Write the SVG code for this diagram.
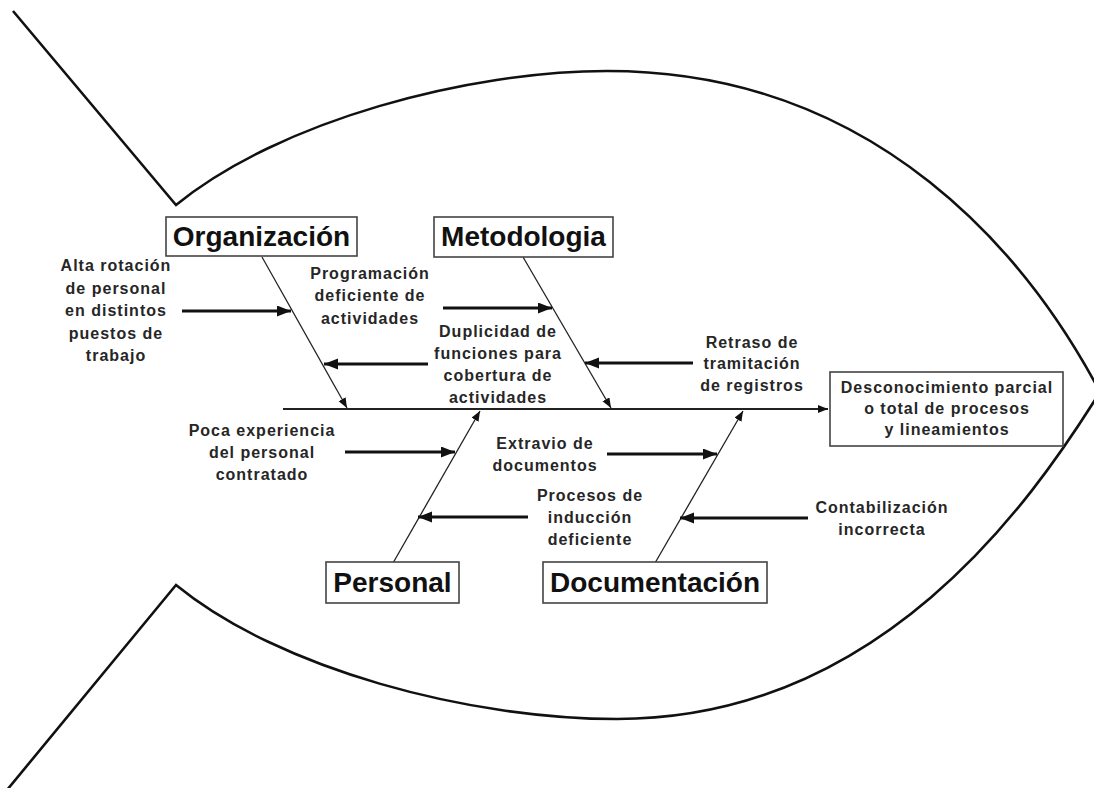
<svg xmlns="http://www.w3.org/2000/svg" width="1094" height="788" viewBox="0 0 1094 788">
  <style>
    .fish { fill: none; stroke: #111; stroke-width: 2.6; stroke-linejoin: miter; }
    .box { fill: #fff; stroke: #444; stroke-width: 1.6; }
    .cat { font-family: "Liberation Sans", Arial, sans-serif; font-weight: bold; font-size: 28px; fill: #111; text-anchor: middle; }
    .lbl { font-family: "Liberation Sans", Arial, sans-serif; font-weight: bold; font-size: 16px; letter-spacing: 1px; fill: #262626; text-anchor: middle; }
    .spine { stroke: #222; stroke-width: 2; fill: none; }
    .bone { stroke: #222; stroke-width: 1.3; fill: none; }
    .cause { stroke: #111; stroke-width: 3; fill: none; }
  </style>
  <defs>
    <marker id="small" markerUnits="userSpaceOnUse" markerWidth="11" markerHeight="9" refX="10" refY="4" orient="auto">
      <path d="M0,0 L10,4 L0,8 z" fill="#111"/>
    </marker>
    <marker id="big" markerUnits="userSpaceOnUse" markerWidth="15" markerHeight="12" refX="14" refY="5.5" orient="auto">
      <path d="M0,0 L14,5.5 L0,11 z" fill="#111"/>
    </marker>
  </defs>
  <rect width="1094" height="788" fill="#fff"/>

  <!-- fish outline: tail and head -->
  <g id="fish">
    <path class="fish" d="M13,11 L176,205 C280,120 470,71 607,71 C880,71 1030,260 1100,392"/>
    <path class="fish" d="M7,790 L176,585 C280,670 470,719 617,719 C880,719 1030,504 1100,392"/>
  </g>

  <g id="connectors">
    <!-- spine -->
    <path class="spine" d="M283,409 L828,409" marker-end="url(#small)"/>
    <!-- category bones -->
    <path class="bone" d="M262,257 L347,408" marker-end="url(#small)"/>
    <path class="bone" d="M523,257 L611,408" marker-end="url(#small)"/>
    <path class="bone" d="M393,563 L480,411" marker-end="url(#small)"/>
    <path class="bone" d="M655,563 L743,411" marker-end="url(#small)"/>
    <!-- causes -->
    <path class="cause" d="M182,311 L291,311" marker-end="url(#big)"/>
    <path class="cause" d="M443,308 L552,308" marker-end="url(#big)"/>
    <path class="cause" d="M428,364 L324,364" marker-end="url(#big)"/>
    <path class="cause" d="M693,363 L585,363" marker-end="url(#big)"/>
    <path class="cause" d="M345,452 L455,452" marker-end="url(#big)"/>
    <path class="cause" d="M607,454 L717,454" marker-end="url(#big)"/>
    <path class="cause" d="M528,517 L418,517" marker-end="url(#big)"/>
    <path class="cause" d="M808,518 L680,518" marker-end="url(#big)"/>
  </g>

  <g id="organizacion">
    <rect class="box" x="166" y="217" width="191" height="39"/>
    <text class="cat" x="261.5" y="246">Organización</text>
  </g>
  <g id="metodologia">
    <rect class="box" x="434" y="217" width="179" height="40"/>
    <text class="cat" x="523.5" y="246">Metodologia</text>
  </g>
  <g id="personal">
    <rect class="box" x="326" y="562" width="133" height="41"/>
    <text class="cat" x="392.5" y="592">Personal</text>
  </g>
  <g id="documentacion">
    <rect class="box" x="543" y="562" width="224" height="41"/>
    <text class="cat" x="655" y="592">Documentación</text>
  </g>
  <g id="efecto">
    <rect class="box" x="830" y="372" width="233" height="74"/>
    <text class="lbl" x="947" y="393">Desconocimiento parcial</text>
    <text class="lbl" x="947" y="414">o total de procesos</text>
    <text class="lbl" x="947" y="435">y lineamientos</text>
  </g>

  <g id="causa-rotacion">
    <text class="lbl" x="116" y="271">Alta rotación</text>
    <text class="lbl" x="116" y="293.5">de personal</text>
    <text class="lbl" x="116" y="316">en distintos</text>
    <text class="lbl" x="116" y="338.5">puestos de</text>
    <text class="lbl" x="116" y="361">trabajo</text>
  </g>
  <g id="causa-programacion">
    <text class="lbl" x="370" y="278.5">Programación</text>
    <text class="lbl" x="370" y="301">deficiente de</text>
    <text class="lbl" x="370" y="323.5">actividades</text>
  </g>
  <g id="causa-duplicidad">
    <text class="lbl" x="498" y="336.5">Duplicidad de</text>
    <text class="lbl" x="498" y="358.5">funciones para</text>
    <text class="lbl" x="498" y="380.5">cobertura de</text>
    <text class="lbl" x="498" y="402.5">actividades</text>
  </g>
  <g id="causa-retraso">
    <text class="lbl" x="752" y="347.5">Retraso de</text>
    <text class="lbl" x="752" y="368.5">tramitación</text>
    <text class="lbl" x="752" y="390.5">de registros</text>
  </g>
  <g id="causa-experiencia">
    <text class="lbl" x="262" y="435.5">Poca experiencia</text>
    <text class="lbl" x="262" y="457.5">del personal</text>
    <text class="lbl" x="262" y="479.5">contratado</text>
  </g>
  <g id="causa-extravio">
    <text class="lbl" x="545" y="448.5">Extravio de</text>
    <text class="lbl" x="545" y="470.5">documentos</text>
  </g>
  <g id="causa-induccion">
    <text class="lbl" x="590" y="500.5">Procesos de</text>
    <text class="lbl" x="590" y="522.5">inducción</text>
    <text class="lbl" x="590" y="544.5">deficiente</text>
  </g>
  <g id="causa-contabilizacion">
    <text class="lbl" x="882" y="512.5">Contabilización</text>
    <text class="lbl" x="882" y="534.5">incorrecta</text>
  </g>
</svg>
